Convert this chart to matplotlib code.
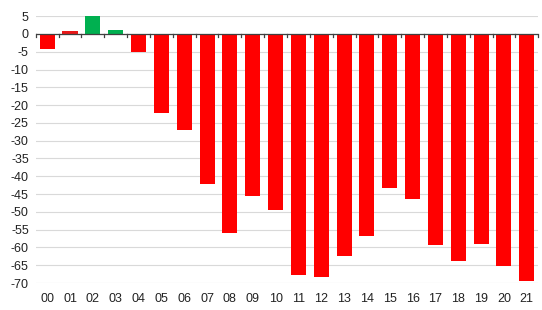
import matplotlib
matplotlib.use("Agg")
import matplotlib.pyplot as plt
import numpy as np

categories = ["00", "01", "02", "03", "04", "05", "06", "07", "08", "09", "10",
              "11", "12", "13", "14", "15", "16", "17", "18", "19", "20", "21"]
values = [-4.3, 0.7, 5.0, 1.2, -5.0, -22.3, -27.1, -42.3, -55.9, -45.5, -49.4,
          -67.7, -68.2, -62.5, -56.8, -43.2, -46.3, -59.4, -63.8, -58.9, -65.3, -69.4]
bar_colors = ['#FF0000', '#E81818', '#00B050', '#00B050'] + ['#FF0000'] * 18
yticks = list(range(5, -75, -5))

plt.rcParams['font.family'] = ['Liberation Sans', 'DejaVu Sans']

fig = plt.figure(figsize=(5.42, 3.10), dpi=100)
ax = fig.add_axes([0.066, 0.087, 0.927, 0.861])

x = np.arange(len(categories))
ax.bar(x, values, width=0.66, color=bar_colors, zorder=3)

ax.set_xlim(-0.5, len(categories) - 0.5)
ax.set_ylim(-70, 5)
ax.set_yticks(yticks)
ax.set_yticklabels([str(t) for t in yticks], fontsize=9, color='#222222')
ax.set_xticks(x)
ax.set_xticklabels(categories, fontsize=9, color='#222222')
ax.tick_params(axis='both', length=0)
ax.tick_params(axis='x', pad=7)
ax.tick_params(axis='y', pad=5)

ax.grid(axis='y', color='#D9D9D9', linewidth=0.8, zorder=0)
for s in ax.spines.values():
    s.set_visible(False)

# zero axis line with category-boundary ticks
ax.axhline(0, color='#404040', linewidth=0.9, zorder=4)
for b in np.arange(-0.5, len(categories), 1.0):
    ax.plot([b, b], [0, -0.8], color='#404040', linewidth=0.9, zorder=4, clip_on=False)

fig.savefig("out.png", dpi=100)
